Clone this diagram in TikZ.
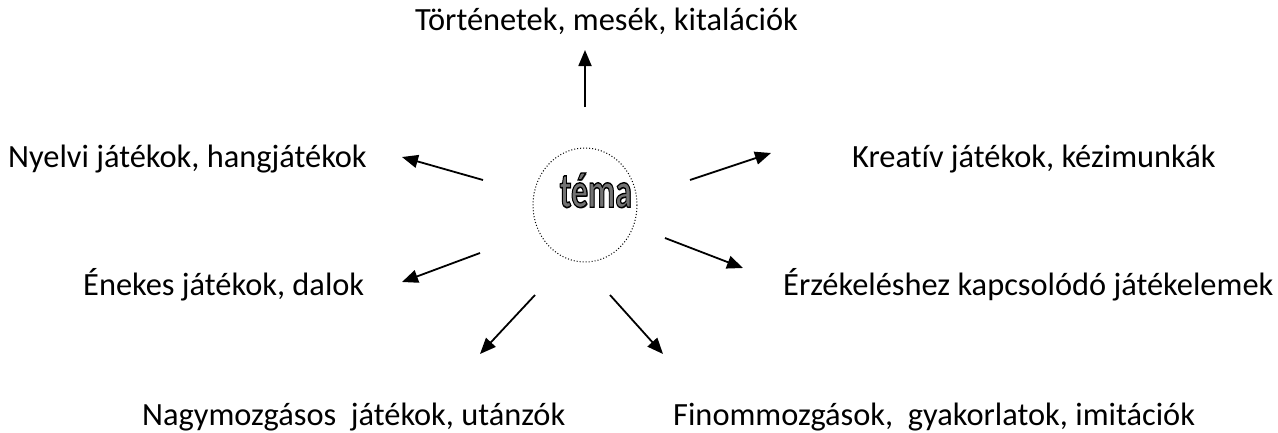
\documentclass[tikz,border=0pt]{standalone}
\usepackage{fontspec}
\setmainfont{Carlito}[Ligatures={NoCommon}]
\usetikzlibrary{arrows.meta}
\tikzset{
  lbl/.style={anchor=base west, inner sep=0pt, font=\fontsize{32.4}{38}\selectfont, text=black},
  arr/.style={line width=1.8pt, -{Triangle[length=16pt,width=13pt]}},
  temafont/.style={anchor=base, inner sep=0pt, font=\bfseries\fontsize{32}{36}\selectfont},
}
\begin{document}
\begin{tikzpicture}[x=1pt,y=-1pt]
\useasboundingbox[fill=white] (0,0) rectangle (1278,432);
% centre
\draw[dotted, line width=1pt] (585,205) ellipse [x radius=52, y radius=57];
\node[temafont, text=black!80] (tema) at (596.8,208.2) {\scalebox{1.05}[1.55]{téma}};
\node[temafont] (tema2) at (595.8,207.2) {\scalebox{1.05}[1.55]{\special{pdf:code q 2 Tr 0.9 w 0 G 0.45 g}téma\special{pdf:code Q}}};
% labels
\node[lbl] (top) at (415,30) {Történetek, mesék, kitalációk};
\node[lbl] (nyelvi) at (8,167) {Nyelvi játékok, hangjátékok};
\node[lbl] (kreativ) at (852,167) {Kreatív játékok, kézimunkák};
\node[lbl] (enekes) at (83,295) {Énekes játékok, dalok};
\node[lbl] (erzek) at (783,295) {Érzékeléshez kapcsolódó játékelemek};
\node[lbl] (nagy) at (142,425) {Nagymozgásos\ \ játékok, utánzók};
\node[lbl] (finom) at (673,425) {Finommozgások,\ \ gyakorlatok, imitációk};
% arrow coordinates
\coordinate (a1s) at (585,107); \coordinate (a1e) at (585,50);
\coordinate (a2s) at (483,180); \coordinate (a2e) at (402,157);
\coordinate (a3s) at (690,180); \coordinate (a3e) at (771,153);
\coordinate (a4s) at (480,253); \coordinate (a4e) at (402,282);
\coordinate (a5s) at (535,295); \coordinate (a5e) at (480,354);
\coordinate (a6s) at (610,295); \coordinate (a6e) at (663,354);
\coordinate (a7s) at (665,238); \coordinate (a7e) at (743,268);
\foreach \i in {1,...,7} \draw[arr] (a\i s) -- (a\i e);
\end{tikzpicture}
\end{document}
